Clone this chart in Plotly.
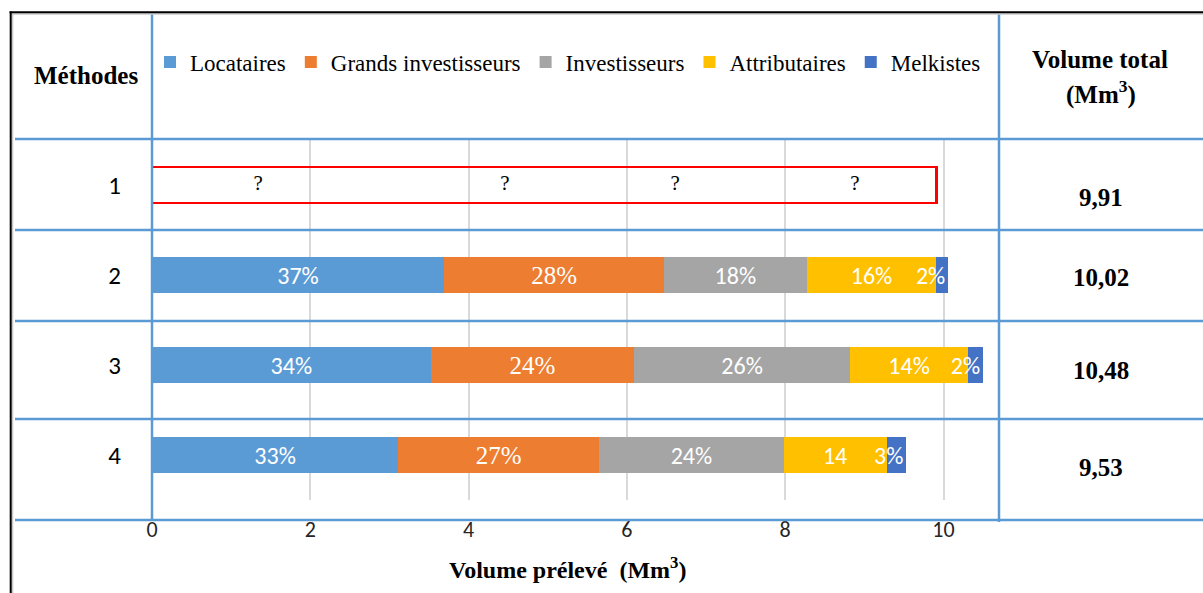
import plotly.graph_objects as go

# ---------------- data ----------------
methods = ["1", "2", "3", "4"]
series_names = ["Locataires", "Grands investisseurs", "Investisseurs", "Attributaires", "Melkistes"]
series_colors = ["#5B9BD5", "#ED7D31", "#A5A5A5", "#FFC000", "#4472C4"]

# volumes (Mm3) for methods 2, 3, 4
rows_known = ["2", "3", "4"]
locataires = [3.69, 3.52, 3.11]
grands_investisseurs = [2.78, 2.57, 2.54]
investisseurs = [1.80, 2.73, 2.33]
attributaires = [1.64, 1.49, 1.30]
melkistes = [0.15, 0.19, 0.25]

lab_locataires = ["37%", "34%", "33%"]
lab_grands = ["28%", "24%", "27%"]
lab_investisseurs = ["18%", "26%", "24%"]
lab_attributaires = ["16%", "14%", "14"]
lab_melkistes = ["2%", "2%", "3%"]

volume_total = [9.91, 10.02, 10.48, 9.53]
unknown_x = [1.34, 4.46, 6.61, 8.88]
unknown_text = ["?", "?", "?", "?"]

x_ticks = [0, 2, 4, 6, 8, 10]

# ---------------- layout geometry ----------------
W, H = 1203, 593
L, R, T, B = 152, 204, 140, 93
PW, PH = W - L - R, H - T - B
PX_PER_UNIT = 79.15


def px(x):
    return (x - L) / PW


def py(y):
    return 1 - (y - T) / PH


SERIF = "Liberation Serif, Times New Roman, serif"
SANS = "Carlito, Lato, Calibri, sans-serif"
LINE_BLUE = "#5B9BD5"

fig = go.Figure()

series_values = [locataires, grands_investisseurs, investisseurs, attributaires, melkistes]
series_labels = [lab_locataires, lab_grands, lab_investisseurs, lab_attributaires, lab_melkistes]
series_fonts = [
    dict(family=SANS, size=24, color="white"),
    dict(family=SERIF, size=25, color="white"),
    dict(family=SANS, size=24, color="white"),
    dict(family=SANS, size=24, color="white"),
    dict(family=SANS, size=24, color="white"),
]
series_anchor = ["middle", "middle", "middle", "middle", "end"]

for name, col, vals, labs, fnt, anc in zip(series_names, series_colors, series_values,
                                           series_labels, series_fonts, series_anchor):
    fig.add_trace(go.Bar(
        y=rows_known, x=vals, name=name, orientation="h",
        marker=dict(color=col, line=dict(width=0)),
        text=labs, textposition="inside", insidetextanchor=anc,
        textangle=0, constraintext="none", textfont=fnt, insidetextfont=fnt,
        hoverinfo="skip", width=0.4,
    ))

# method 1: unknown distribution (red outline)
fig.add_trace(go.Bar(
    y=[methods[0]], x=[volume_total[0]], orientation="h", showlegend=False,
    marker=dict(color="rgba(255,255,255,0)", line=dict(color="#FF0000", width=2.5)),
    width=0.4, hoverinfo="skip",
))
fig.add_trace(go.Scatter(
    y=[methods[0]] * len(unknown_x), x=unknown_x, mode="text", text=unknown_text,
    textfont=dict(family=SERIF, size=21, color="black"), showlegend=False, hoverinfo="skip",
))

# ---------------- table lines ----------------
shapes = []
for yy in [139, 230, 321, 419, 520]:
    shapes.append(dict(type="line", xref="paper", yref="paper", x0=px(15), x1=px(1203),
                       y0=py(yy), y1=py(yy), line=dict(color=LINE_BLUE, width=2.5), layer="above"))
for xx, y_end in [(152, 520), (999, 522)]:
    shapes.append(dict(type="line", xref="paper", yref="paper", x0=px(xx), x1=px(xx),
                       y0=py(14), y1=py(y_end), line=dict(color=LINE_BLUE, width=2.5), layer="above"))
# outer frame
shapes.append(dict(type="line", xref="paper", yref="paper", x0=px(10), x1=px(1203),
                   y0=py(14), y1=py(14), line=dict(color="#C8C8C8", width=1.5), layer="above"))
shapes.append(dict(type="line", xref="paper", yref="paper", x0=px(12.5), x1=px(12.5),
                   y0=py(14), y1=py(593), line=dict(color="#C8C8C8", width=1.5), layer="above"))
shapes.append(dict(type="line", xref="paper", yref="paper", x0=px(9.5), x1=px(1203),
                   y0=py(12.2), y1=py(12.2), line=dict(color="black", width=2), layer="above"))
shapes.append(dict(type="line", xref="paper", yref="paper", x0=px(10.7), x1=px(10.7),
                   y0=py(11.5), y1=py(593), line=dict(color="black", width=2), layer="above"))


def ann(text, x, y, size):
    return dict(text=text, x=px(x), y=py(y), xref="paper", yref="paper", showarrow=False,
                xanchor="center", yanchor="middle",
                font=dict(family=SERIF, size=size, color="black"))


# ---------------- annotations ----------------
annotations = [
    ann("<b>Méthodes</b>", 86, 76, 25),
    ann("<b>Volume total</b>", 1100, 60, 25),
    ann("<b>(Mm<sup>3</sup>)</b>", 1101, 92, 25),
    ann("<b>Volume prélevé  (Mm<sup>3</sup>)</b>", 567, 568, 24),
]
value_y_px = [197, 277, 370, 467]
for v, yy in zip(volume_total, value_y_px):
    annotations.append(ann("<b>" + f"{v:.2f}".replace(".", ",") + "</b>", 1101, yy, 25))

fig.update_layout(
    width=W, height=H, autosize=False,
    margin=dict(l=L, r=R, t=T, b=B, autoexpand=False),
    paper_bgcolor="white", plot_bgcolor="white",
    barmode="stack", bargap=0.6,
    shapes=shapes, annotations=annotations,
    legend=dict(orientation="h", traceorder="normal", x=px(150), y=py(62),
                xanchor="left", yanchor="middle",
                font=dict(family=SERIF, size=23, color="black"),
                bgcolor="rgba(0,0,0,0)", itemwidth=30, tracegroupgap=0),
    xaxis=dict(range=[0, PW / PX_PER_UNIT], tickvals=x_ticks, showgrid=True,
               gridcolor="#D9D9D9", gridwidth=1.5, zeroline=False, showline=False,
               ticks="", ticklabelstandoff=14,
               tickfont=dict(family=SANS, size=22, color="#262626"), fixedrange=True),
    yaxis=dict(type="category", categoryorder="array", categoryarray=methods,
               range=[3.5, -0.5], showgrid=False, zeroline=False, showline=False,
               ticks="", ticklabelstandoff=30,
               tickfont=dict(family=SANS, size=25, color="black"), fixedrange=True),
    showlegend=True,
)

fig.write_html("out.html", config={"displayModeBar": False},
               post_script="document.body.style.margin='0';")
